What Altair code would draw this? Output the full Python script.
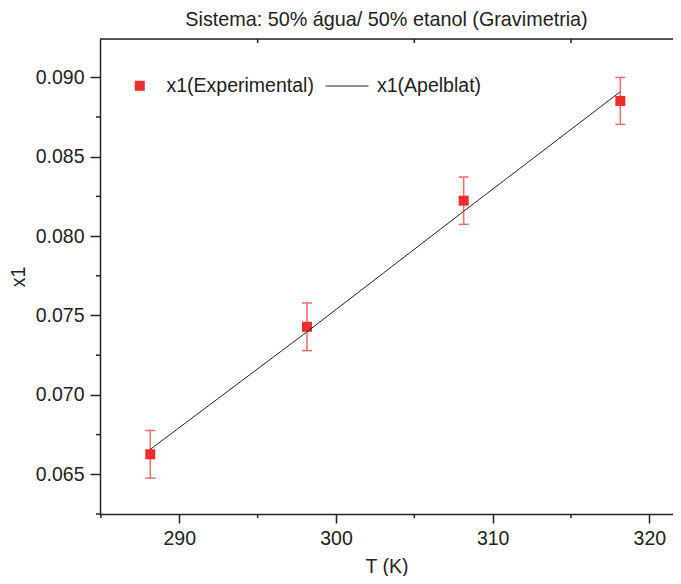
import altair as alt
import pandas as pd

# ---- data ----
T = [288.15, 298.15, 308.15, 318.15]
x1_exp = [0.06626, 0.07429, 0.08223, 0.08851]
x1_err = [0.00150, 0.00150, 0.00149, 0.00148]
x1_apel = [0.06657, 0.07397, 0.08156, 0.08909]

x_major = [290, 300, 310, 320]
x_minor = [285, 295, 305, 315]
x_top_ticks = [295, 305, 315]
y_major = [0.065, 0.070, 0.075, 0.080, 0.085, 0.090]
y_minor = [0.0625, 0.0675, 0.0725, 0.0775, 0.0825, 0.0875]

TITLE = "Sistema: 50% água/ 50% etanol (Gravimetria)"
SERIES_EXP = "x1(Experimental)"
SERIES_APEL = "x1(Apelblat)"
X_TITLE = "T (K)"
Y_TITLE = "x1"

# ---- styling ----
FONT = "Liberation Sans"
FS = 19.5
INK = "#222222"
RED = "#EE2C2C"
ERR = "#F26B6B"
W, H = 573, 475

df = pd.DataFrame({
    "T": T,
    "exp": x1_exp,
    "lo": [v - e for v, e in zip(x1_exp, x1_err)],
    "hi": [v + e for v, e in zip(x1_exp, x1_err)],
    "apel": x1_apel,
    "s_exp": [SERIES_EXP] * len(T),
    "s_apel": [SERIES_APEL] * len(T),
})

xs = alt.Scale(domain=[284.94, 321.51], nice=False, zero=False)
ys = alt.Scale(domain=[0.0625, 0.09241], nice=False, zero=False)

x_axis = alt.Axis(values=x_major, format="d", title=X_TITLE, grid=False,
                  tickSize=9, tickWidth=1.5, tickColor=INK,
                  domainWidth=1.5, domainColor=INK,
                  labelFont=FONT, labelFontSize=FS, labelColor=INK, labelPadding=6,
                  titleFont=FONT, titleFontSize=FS, titleColor=INK,
                  titleFontWeight="normal", titlePadding=10)
y_axis = alt.Axis(values=y_major, format=".3f", title=Y_TITLE, grid=False,
                  tickSize=10, tickWidth=1.5, tickColor=INK,
                  domainWidth=1.5, domainColor=INK,
                  labelFont=FONT, labelFontSize=FS, labelColor=INK, labelPadding=6,
                  titleFont=FONT, titleFontSize=FS, titleColor=INK,
                  titleFontWeight="normal", titlePadding=7)


def X(field):
    return alt.X(field, type="quantitative", scale=xs, axis=x_axis)


def Y(field):
    return alt.Y(field, type="quantitative", scale=ys, axis=y_axis)


base = alt.Chart(df)

err_rule = base.mark_rule(color=ERR, strokeWidth=1.5).encode(
    x=X("T"), y=Y("lo"), y2="hi")

err_caps = base.transform_fold(["lo", "hi"], as_=["k", "v"]).mark_tick(
    orient="horizontal", size=10, thickness=1.5, color=ERR, opacity=1
).encode(x=X("T"), y=Y("v"))

points = base.mark_point(shape="square", filled=True, size=100, color=RED, opacity=1).encode(
    x=X("T"), y=Y("exp"),
    shape=alt.Shape("s_exp:N", scale=alt.Scale(domain=[SERIES_EXP], range=["square"]),
                    legend=alt.Legend(orient="none", legendX=30, legendY=37, title=None,
                                      padding=0, labelFont=FONT, labelFontSize=FS,
                                      labelColor=INK, labelOffset=17,
                                      symbolSize=100, symbolFillColor=RED,
                                      symbolStrokeColor=RED, symbolStrokeWidth=0,
                                      symbolOpacity=1)),
)

line = base.mark_line(strokeWidth=1).encode(
    x=X("T"), y=Y("apel"),
    color=alt.Color("s_apel:N", scale=alt.Scale(domain=[SERIES_APEL], range=[INK]),
                    legend=alt.Legend(orient="none", legendX=225, legendY=25, title=None,
                                      padding=0, labelFont=FONT, labelFontSize=FS,
                                      labelColor=INK, labelOffset=8,
                                      symbolType="stroke", symbolSize=1849,
                                      symbolStrokeWidth=1)),
)

top_frame = alt.Chart(pd.DataFrame({"a": [0]})).mark_rule(color=INK, strokeWidth=1.5).encode(
    x=alt.value(0), x2=alt.value(W), y=alt.value(0))

top_ticks = alt.Chart(pd.DataFrame({"v": x_top_ticks})).mark_rule(color=INK, strokeWidth=1.5).encode(
    x=X("v"), y=alt.value(0), y2=alt.value(4))

x_minor_ticks = alt.Chart(pd.DataFrame({"v": x_minor})).mark_rule(color=INK, strokeWidth=1.5).encode(
    x=X("v"), y=alt.value(H), y2=alt.value(H + 4))

y_minor_ticks = alt.Chart(pd.DataFrame({"v": y_minor})).mark_rule(color=INK, strokeWidth=1.5).encode(
    y=Y("v"), x=alt.value(0), x2=alt.value(-4))

chart = alt.layer(
    err_rule, err_caps, points, line, top_frame, top_ticks, x_minor_ticks, y_minor_ticks
).properties(
    width=W, height=H,
    title=alt.TitleParams(TITLE, font=FONT, fontSize=19.8, fontWeight="normal",
                          color=INK, anchor="middle", offset=8),
    autosize=alt.AutoSizeParams(type="none"),
    padding={"left": 92, "top": 31, "right": 0, "bottom": 62},
).resolve_legend(
    shape="independent", color="independent"
).configure_view(stroke=None).configure(background="white")

chart.save("out.html", embed_options={"renderer": "svg", "actions": False})
